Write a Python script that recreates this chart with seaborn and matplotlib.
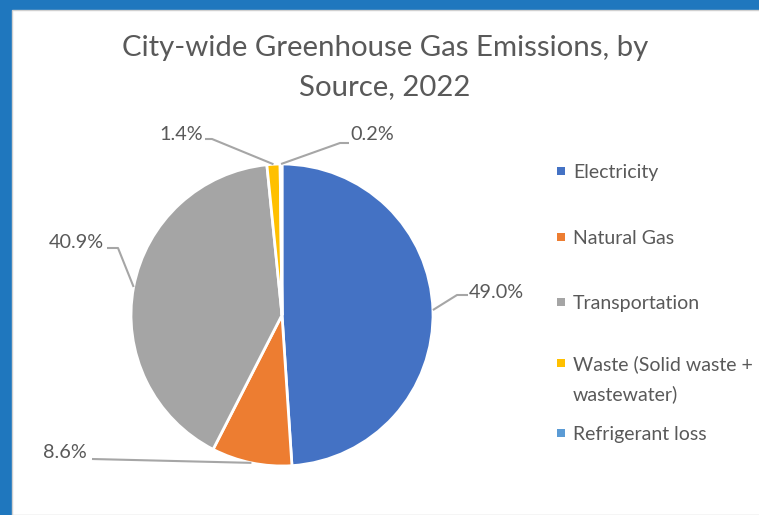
import numpy as np
import matplotlib
matplotlib.use('Agg')
import matplotlib.pyplot as plt
from matplotlib.patches import Rectangle
import seaborn as sns

# Data
sources = ['Electricity', 'Natural Gas', 'Transportation',
           'Waste (Solid waste +\nwastewater)', 'Refrigerant loss']
shares = [49.0, 8.6, 40.9, 1.4, 0.2]
colors = ['#4472C4', '#ED7D31', '#A5A5A5', '#FFC000', '#5B9BD5']

sns.set_style('white')
plt.rcParams['font.family'] = ['Lato', 'DejaVu Sans']

W, H = 759, 515
fig = plt.figure(figsize=(W / 100, H / 100), dpi=100, facecolor='#1F77BE')
# white chart area inside blue frame
fig.patches.append(Rectangle((12 / W, 0), 1, 1 - 10 / H, transform=fig.transFigure,
                             facecolor='white', edgecolor='#d0d0d0', lw=1, zorder=-5))

# pie centre / radius in pixels
cx, cy, r = 282, 315, 151
ax = fig.add_axes([(cx - r) / W, (H - cy - r) / H, 2 * r / W, 2 * r / H])
ax.set_facecolor('none')

wedges, _ = ax.pie(shares, colors=colors, startangle=90, counterclock=False,
                   radius=1, wedgeprops=dict(edgecolor='white', linewidth=2))
ax.set_xlim(-1, 1)
ax.set_ylim(-1, 1)
ax.set_aspect('equal')
ax.axis('off')


def px(x, y):
    return (x - cx) / r, (cy - y) / r


# leader lines: text anchor, alignment, elbow, line end (pixels)
label_layout = [
    ((469, 292), 'left', (457, 295), (468, 295)),
    ((87, 453), 'right', (92, 459), (92, 459)),
    ((104, 243), 'right', (118, 248), (107, 248)),
    ((203, 135), 'right', (212, 139), (205, 139)),
    ((350, 135), 'left', (340, 143), (349, 143)),
]

total = sum(shares)
cum = np.cumsum(shares)
for i, v in enumerate(shares):
    mid = np.deg2rad(90 - 360 * (cum[i] - v / 2) / total)
    ex, ey = np.cos(mid), np.sin(mid)
    (tx, ty), ha, elbow, end = label_layout[i]
    bx, by = px(*elbow)
    lx, ly = px(*end)
    ax.plot([ex, bx, lx], [ey, by, ly], color='#A6A6A6', lw=1.5, clip_on=False,
            solid_capstyle='butt')
    ax.text(*px(tx, ty), f'{v:.1f}%', ha=ha, va='center', fontsize=14.3,
            color='#595959', clip_on=False)

fig.text(385 / W, 1 - 48 / H, 'City-wide Greenhouse Gas Emissions, by',
         ha='center', va='center', fontsize=21.2, color='#595959')
fig.text(385 / W, 1 - 87 / H, 'Source, 2022',
         ha='center', va='center', fontsize=21.2, color='#595959')

# legend (drawn by hand so the marker sits on the first line of a wrapped label)
legend_y = [171, 237, 302, 363, 433]
for name, col, ly in zip(sources, colors, legend_y):
    fig.patches.append(Rectangle((557 / W, 1 - (ly + 4) / H), 8 / W, 8 / H,
                                 transform=fig.transFigure, facecolor=col,
                                 edgecolor='none'))
    for j, line in enumerate(name.split('\n')):
        fig.text(573 / W, 1 - (ly + 30 * j) / H, line, ha='left',
                 va='center_baseline', fontsize=14, color='#595959')

fig.savefig('out.png', dpi=100, facecolor=fig.get_facecolor())
